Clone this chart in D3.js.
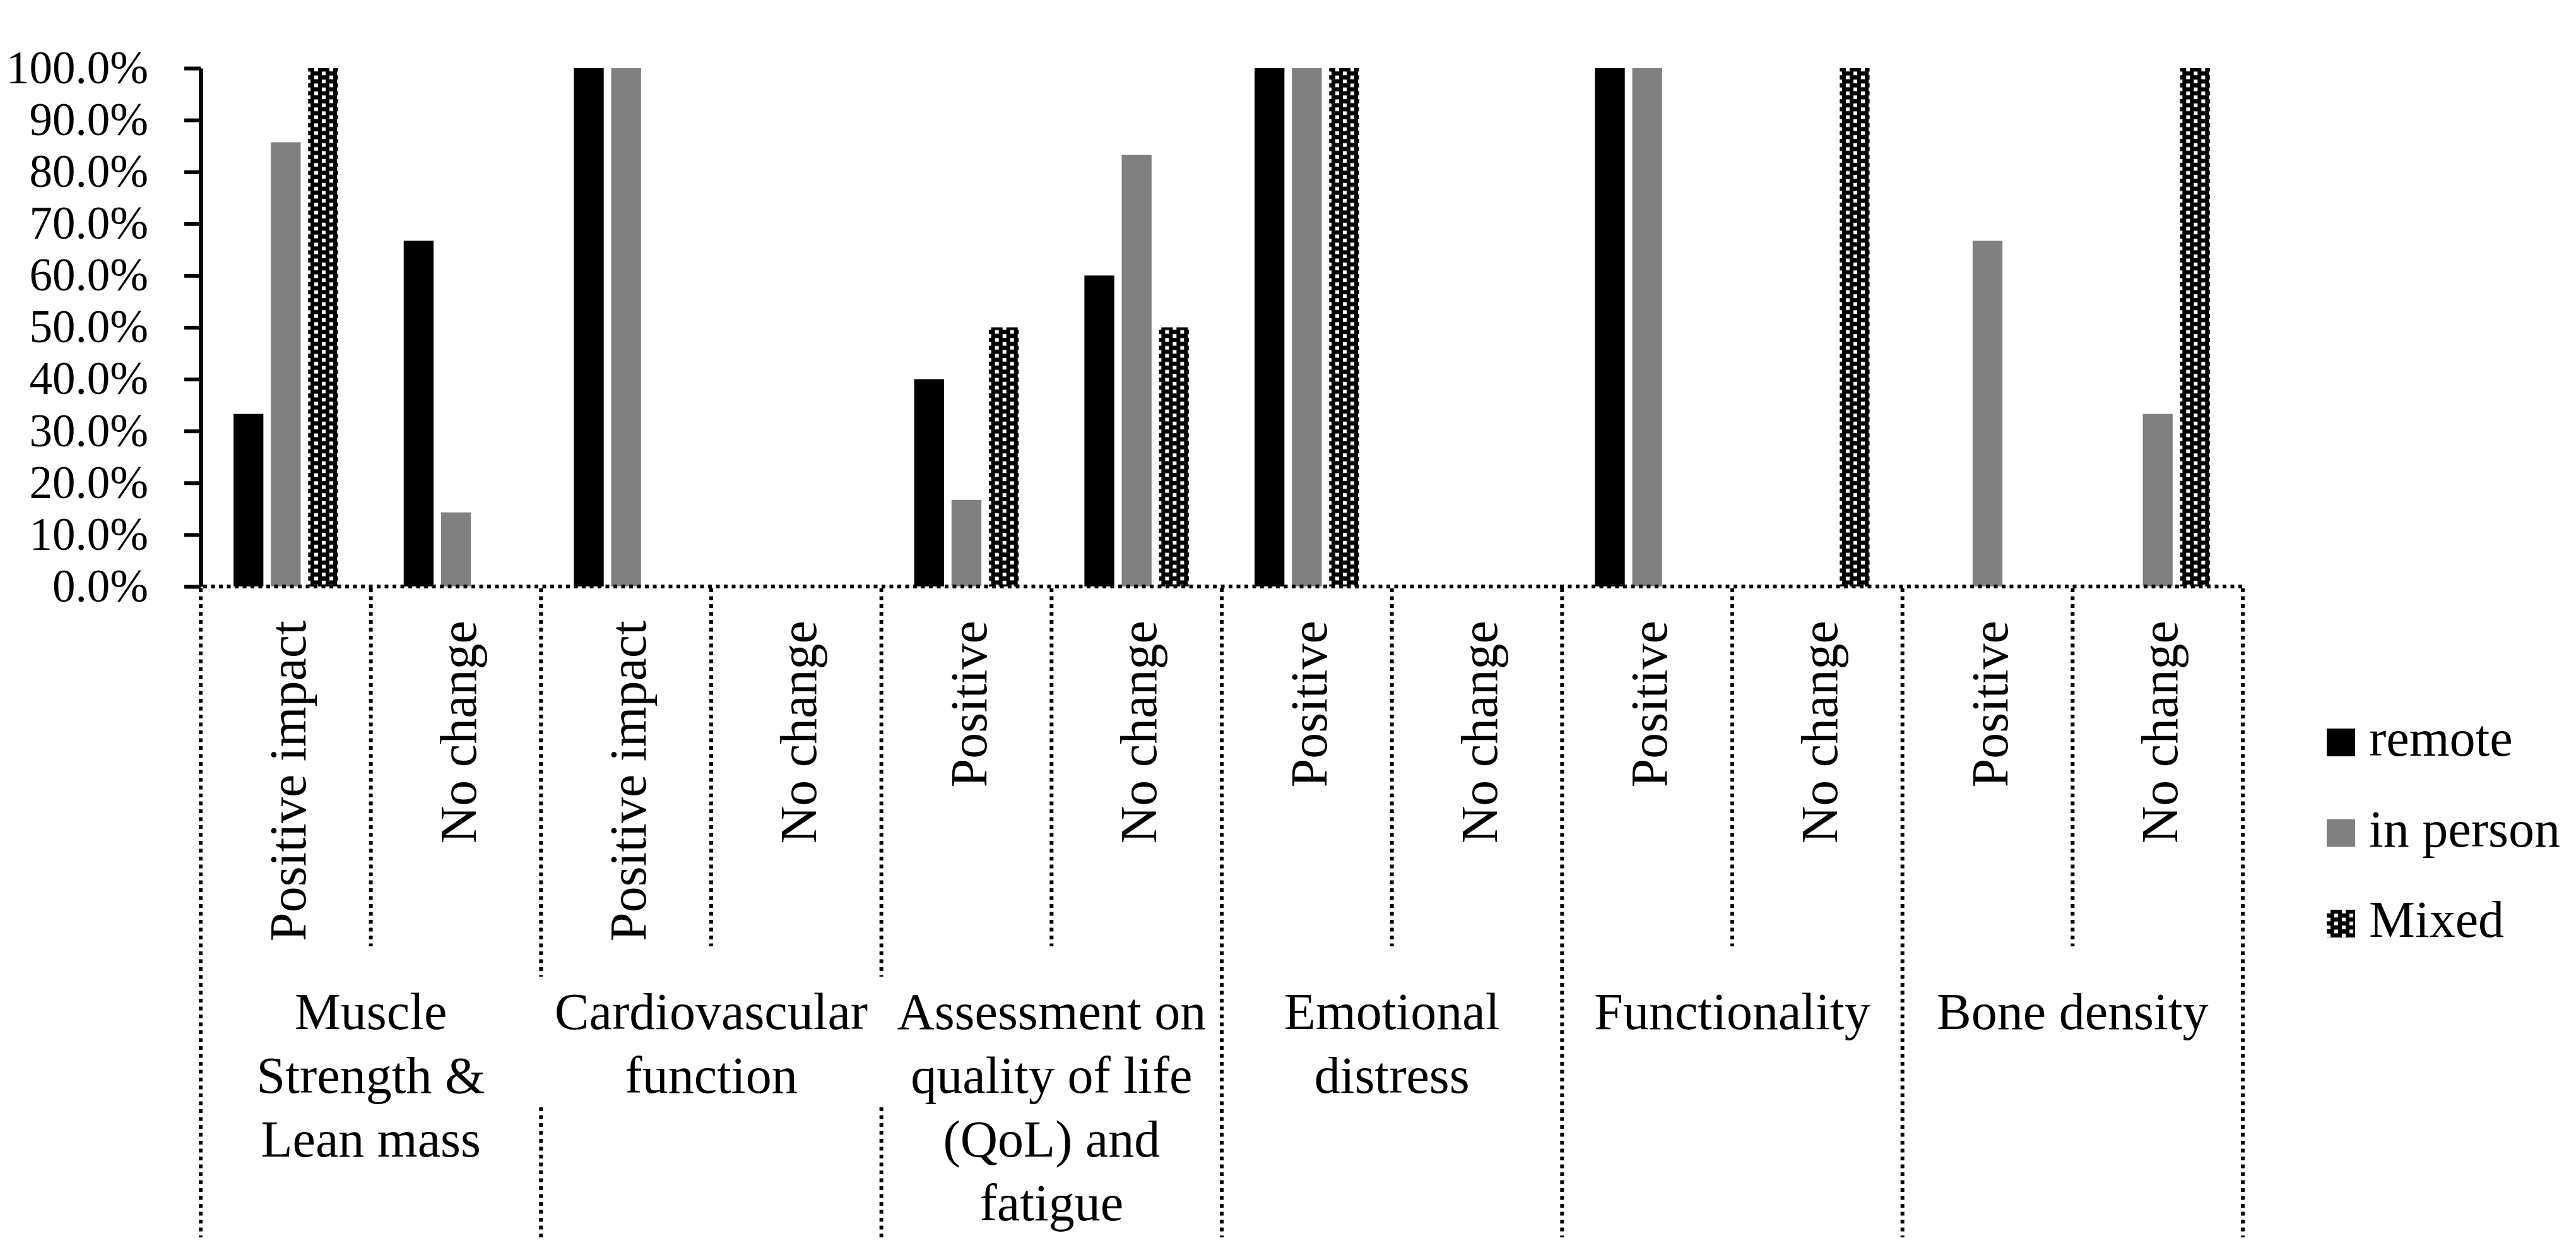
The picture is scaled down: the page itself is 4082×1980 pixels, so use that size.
<!DOCTYPE html>
<html>
<head>
    <meta charset="utf-8">
    <title>Outcomes by delivery mode</title>
    <script src="https://cdn.jsdelivr.net/npm/d3@7"></script>
    <style>
        body {
            margin: 0;
            background-color: #ffffff;
        }
        svg text {
            font-family: "Liberation Serif", "Times New Roman", serif;
            fill: #000;
        }
    </style>
</head>
<body>
    <div id="chart"></div>

    <script>
        // outcome groups and their wrapped labels
        const groups = ["Muscle Strength & Lean mass", "Cardiovascular function",
            "Assessment on quality of life (QoL) and fatigue", "Emotional distress",
            "Functionality", "Bone density"];
        const groupLines = [
            ["Muscle", "Strength &", "Lean mass"],
            ["Cardiovascular", "function"],
            ["Assessment on", "quality of life", "(QoL) and", "fatigue"],
            ["Emotional", "distress"],
            ["Functionality"],
            ["Bone density"]
        ];
        // sub categories, two per group
        const outcomes = ["Positive impact", "No change", "Positive impact", "No change",
            "Positive", "No change", "Positive", "No change",
            "Positive", "No change", "Positive", "No change"];

        const series = ["remote", "in person", "Mixed"];
        const remote   = [33.3, 66.7, 100, 0, 40, 60, 100, 0, 100, 0, 0, 0];
        const inPerson = [85.7, 14.3, 100, 0, 16.7, 83.3, 100, 0, 100, 0, 66.7, 33.3];
        const mixed    = [100, 0, 0, 0, 50, 50, 100, 0, 0, 100, 0, 100];

        const yTicks = [0, 10, 20, 30, 40, 50, 60, 70, 80, 90, 100];

        const W = 4082, H = 1980;
        const plotLeft = 318, plotRight = 3554, plotTop = 108, plotBottom = 929;
        const lineBottom = 1960;

        const svg = d3.select("#chart")
            .append("svg")
            .attr("width", W)
            .attr("height", H);

        // Mixed fill pattern
        const pat = svg.append("defs").append("pattern")
            .attr("id", "mixedPat")
            .attr("patternUnits", "userSpaceOnUse")
            .attr("width", 24)
            .attr("height", 12.6);
        pat.append("rect").attr("width", 24).attr("height", 12.6).attr("fill", "#000");
        pat.append("rect").attr("x", 0).attr("y", 0).attr("width", 6).attr("height", 5.8).attr("fill", "#fff");
        pat.append("rect").attr("x", 12).attr("y", 6.3).attr("width", 6).attr("height", 5.8).attr("fill", "#fff");

        const fills = { "remote": "#000000", "in person": "#808080", "Mixed": "url(#mixedPat)" };
        const values = { "remote": remote, "in person": inPerson, "Mixed": mixed };

        const x0 = d3.scaleBand()
            .domain(d3.range(outcomes.length))
            .range([plotLeft, plotRight]);

        const xg = d3.scaleBand()
            .domain(groups)
            .range([plotLeft, plotRight]);

        const bw = x0.bandwidth();
        const x1 = d3.scaleBand()
            .domain(series)
            .range([bw * 0.193, bw * 0.807])
            .paddingInner(0.2);

        const y = d3.scaleLinear()
            .domain([0, 100])
            .range([plotBottom, plotTop]);

        // bars
        const cat = svg.append("g")
            .selectAll("g")
            .data(d3.range(outcomes.length))
            .enter()
            .append("g")
            .attr("transform", i => `translate(${x0(i)},0)`);

        cat.selectAll("rect")
            .data(i => series.map(s => ({ s: s, v: values[s][i] })))
            .enter()
            .append("rect")
            .attr("x", d => x1(d.s))
            .attr("y", d => y(d.v))
            .attr("width", x1.bandwidth())
            .attr("height", d => y(0) - y(d.v))
            .attr("fill", d => fills[d.s]);

        // Y axis
        const yAxis = svg.append("g")
            .attr("transform", `translate(${plotLeft},0)`)
            .call(d3.axisLeft(y)
                .tickValues(yTicks)
                .tickSize(26)
                .tickSizeOuter(0)
                .tickPadding(57)
                .tickFormat(d => d.toFixed(1) + "%"));
        yAxis.select(".domain").attr("stroke", "#000").attr("stroke-width", 6.5);
        yAxis.selectAll(".tick line").attr("stroke", "#000").attr("stroke-width", 6);
        yAxis.selectAll(".tick text")
            .style("font-size", "73px")
            .style("font-family", "'Liberation Serif', serif");

        // dotted category axis
        const dotted = g => g.attr("stroke", "#000")
            .attr("stroke-width", 6)
            .attr("stroke-dasharray", "6,6.5")
            .attr("fill", "none");

        svg.append("line")
            .attr("x1", plotLeft + 4).attr("x2", plotRight + 3)
            .attr("y1", plotBottom).attr("y2", plotBottom)
            .call(dotted);

        // dividers between sub categories (short) and groups (long)
        d3.range(outcomes.length + 1).forEach(i => {
            const xx = i < outcomes.length ? x0(i) : plotRight;
            if (i % 2 === 1) {
                svg.append("line")
                    .attr("x1", xx).attr("x2", xx)
                    .attr("y1", plotBottom + 3).attr("y2", 1499)
                    .call(dotted);
            } else if (i === 2 || i === 4) {
                svg.append("line")
                    .attr("x1", xx).attr("x2", xx)
                    .attr("y1", plotBottom + 3).attr("y2", 1547)
                    .call(dotted);
                svg.append("line")
                    .attr("x1", xx).attr("x2", xx)
                    .attr("y1", 1754).attr("y2", lineBottom)
                    .call(dotted);
            } else {
                svg.append("line")
                    .attr("x1", xx).attr("x2", xx)
                    .attr("y1", plotBottom + 3).attr("y2", lineBottom)
                    .call(dotted);
            }
        });

        // rotated sub category labels
        svg.append("g")
            .selectAll("text")
            .data(outcomes)
            .enter()
            .append("text")
            .attr("transform", (d, i) => `translate(${x0(i) + bw / 2},983) rotate(-90)`)
            .attr("text-anchor", "end")
            .attr("dy", "0.38em")
            .style("font-size", "82px")
            .text(d => d);

        // group labels
        const gl = svg.append("g")
            .selectAll("text")
            .data(groups)
            .enter()
            .append("text")
            .attr("x", d => xg(d) + xg.bandwidth() / 2)
            .attr("y", 1630)
            .attr("text-anchor", "middle")
            .style("font-size", "82px");

        gl.selectAll("tspan")
            .data((d, i) => groupLines[i])
            .enter()
            .append("tspan")
            .attr("x", function() { return d3.select(this.parentNode).attr("x"); })
            .attr("dy", (d, i) => i === 0 ? 0 : 101)
            .text(d => d);

        // legend
        const legend = svg.append("g")
            .selectAll("g")
            .data(series)
            .enter()
            .append("g")
            .attr("transform", (d, i) => `translate(3687,${1154 + i * 143.5})`);

        legend.append("rect")
            .attr("width", 45)
            .attr("height", 44)
            .attr("fill", d => fills[d]);

        legend.append("text")
            .attr("x", 67)
            .attr("y", 43)
            .style("font-size", "82px")
            .text(d => d);
    </script>
</body>
</html>
